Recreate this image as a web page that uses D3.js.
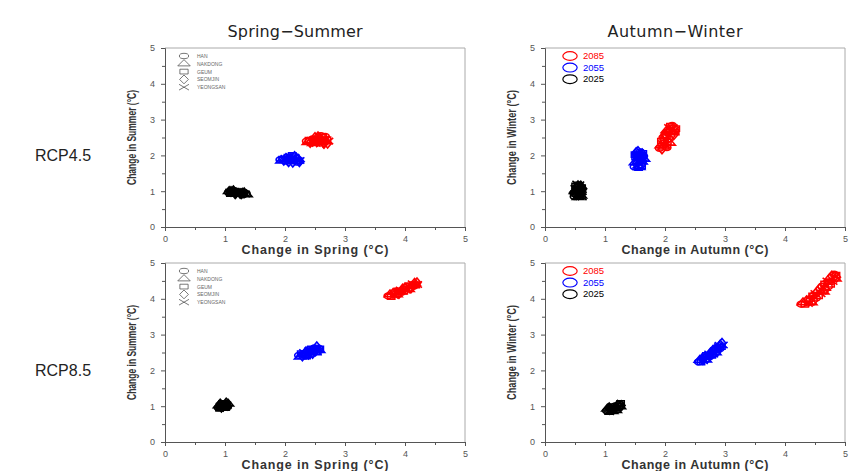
<!DOCTYPE html>
<html><head><meta charset="utf-8">
<script src="https://cdn.jsdelivr.net/npm/d3@7"></script>
<style>body{margin:0;background:#fff}svg{display:block}</style>
</head><body>
<script>
// ---------- data ----------
const columnTitles = ["Spring\u2212Summer", "Autumn\u2212Winter"];
const rowTitles = ["RCP4.5", "RCP8.5"];
const xTitles = ["Change in Spring (\u00B0C)", "Change in Autumn (\u00B0C)"];
const yTitles = ["Change in Summer (\u00B0C)", "Change in Winter (\u00B0C)"];
const tickValues = [0, 1, 2, 3, 4, 5];
const minorTicks = [0.5, 1.5, 2.5, 3.5, 4.5];
const rivers = ["HAN", "NAKDONG", "GEUM", "SEOMJIN", "YEONGSAN"];
const years = ["2085", "2055", "2025"];
const yearColors = ["#ff0000", "#0000ff", "#000000"];

// [x, y, riverIndex]
const rcp45SS_2025 = [[1.06,0.97,0],[1.07,1.00,1],[1.09,0.93,2],[1.10,0.99,3],[1.12,1.01,4],[1.13,0.95,0],[1.15,0.98,1],[1.16,1.00,2],[1.17,0.93,3],[1.19,0.97,4],[1.20,0.99,0],[1.22,0.92,1],[1.23,0.96,2],[1.25,0.94,3],[1.26,0.98,4],[1.28,0.91,0],[1.29,0.95,1],[1.31,0.93,2],[1.32,0.96,3],[1.34,0.92,4],[1.35,0.94,0],[1.36,0.91,1],[1.11,0.96,2],[1.18,0.95,3],[1.24,0.97,4],[1.30,0.90,0],[1.14,1.02,1],[1.21,0.94,2],[1.27,0.93,3],[1.08,0.98,4]];
const rcp45SS_2055 = [[1.92,1.88,0],[1.94,1.85,1],[1.96,1.90,2],[1.98,1.86,3],[2.00,1.92,4],[2.02,1.84,0],[2.03,1.89,1],[2.05,1.95,2],[2.06,1.82,3],[2.08,1.98,4],[2.09,1.87,0],[2.10,1.92,1],[2.12,2.00,2],[2.13,1.81,3],[2.14,1.95,4],[2.15,1.88,0],[2.16,1.98,1],[2.18,1.84,2],[2.19,1.92,3],[2.20,1.87,4],[2.21,1.81,0],[2.22,1.90,1],[2.23,1.85,2],[2.24,1.82,3],[2.25,1.86,4],[2.07,1.90,0],[2.11,1.85,1],[2.17,1.94,2],[2.04,1.87,3],[2.01,1.89,4]];
const rcp45SS_2085 = [[2.36,2.40,0],[2.38,2.37,1],[2.40,2.43,2],[2.42,2.36,3],[2.44,2.41,4],[2.46,2.46,0],[2.47,2.34,1],[2.49,2.39,2],[2.50,2.50,3],[2.52,2.33,4],[2.53,2.44,0],[2.55,2.53,1],[2.56,2.38,2],[2.58,2.48,3],[2.59,2.32,4],[2.60,2.55,0],[2.62,2.42,1],[2.63,2.51,2],[2.64,2.35,3],[2.66,2.46,4],[2.67,2.53,0],[2.68,2.39,1],[2.70,2.44,2],[2.71,2.34,3],[2.73,2.40,4],[2.54,2.36,0],[2.61,2.37,1],[2.57,2.43,2],[2.65,2.33,3],[2.51,2.42,4]];

const rcp45AW_2025 = [[0.49,0.85,0],[0.50,1.00,1],[0.51,1.15,2],[0.52,0.90,3],[0.53,1.20,4],[0.54,1.05,0],[0.55,0.83,1],[0.56,1.12,2],[0.57,0.95,3],[0.58,1.18,4],[0.59,1.02,0],[0.60,0.87,1],[0.61,1.10,2],[0.62,0.97,3],[0.50,1.08,4],[0.52,0.97,0],[0.55,1.16,1],[0.57,0.88,2],[0.60,1.14,3],[0.62,0.84,4],[0.53,1.12,0],[0.56,0.99,1],[0.58,1.06,2],[0.61,1.03,3],[0.54,0.92,4],[0.49,0.93,0],[0.51,1.04,1],[0.59,0.92,2],[0.63,1.07,3],[0.55,1.08,4]];
const rcp45AW_2055 = [[1.49,1.68,0],[1.50,1.80,1],[1.51,1.95,2],[1.52,2.08,3],[1.53,1.72,4],[1.54,1.88,0],[1.55,2.12,1],[1.56,1.66,2],[1.57,2.00,3],[1.58,1.78,4],[1.59,2.10,0],[1.60,1.92,1],[1.61,1.70,2],[1.62,2.05,3],[1.63,1.85,4],[1.64,1.98,0],[1.65,1.90,1],[1.50,2.02,2],[1.53,1.98,3],[1.56,1.84,4],[1.58,1.94,0],[1.61,1.82,1],[1.63,2.06,2],[1.52,1.76,3],[1.55,2.04,4],[1.60,1.74,0],[1.57,1.67,1],[1.54,1.92,2],[1.62,1.96,3],[1.59,2.02,4]];
const rcp45AW_2085 = [[1.91,2.20,0],[1.93,2.28,1],[1.94,2.40,2],[1.95,2.18,3],[1.96,2.33,4],[1.97,2.50,0],[1.98,2.24,1],[1.99,2.42,2],[2.00,2.60,3],[2.01,2.30,4],[2.02,2.52,0],[2.03,2.70,1],[2.04,2.38,2],[2.05,2.62,3],[2.06,2.78,4],[2.07,2.46,0],[2.08,2.68,1],[2.09,2.82,2],[2.10,2.55,3],[2.11,2.74,4],[2.12,2.84,0],[2.13,2.64,1],[2.14,2.78,2],[2.15,2.58,3],[2.16,2.70,4],[2.18,2.75,2],[2.17,2.66,2],[2.03,2.22,0],[2.08,2.35,1],[1.99,2.55,3]];

const rcp85SS_2025 = [[0.89,0.96,0],[0.90,1.02,1],[0.91,0.94,2],[0.92,1.06,3],[0.93,0.99,4],[0.94,1.04,0],[0.95,0.95,1],[0.96,1.08,2],[0.97,1.00,3],[0.98,0.96,4],[0.99,1.06,0],[1.00,1.02,1],[1.01,0.97,2],[1.02,1.09,3],[1.03,1.04,4],[1.04,0.99,0],[1.05,1.07,1],[0.92,1.00,2],[0.95,1.01,3],[0.98,1.03,4],[1.01,1.05,0],[0.97,0.95,1],[1.03,1.00,2],[0.94,0.97,3],[1.00,1.08,4]];
const rcp85SS_2055 = [[2.23,2.42,0],[2.25,2.38,1],[2.27,2.47,2],[2.29,2.40,3],[2.31,2.50,4],[2.33,2.43,0],[2.35,2.53,1],[2.36,2.40,2],[2.38,2.48,3],[2.40,2.56,4],[2.41,2.44,0],[2.43,2.52,1],[2.44,2.60,2],[2.46,2.47,3],[2.47,2.56,4],[2.49,2.63,0],[2.50,2.50,1],[2.52,2.58,2],[2.53,2.66,3],[2.54,2.53,4],[2.56,2.62,0],[2.57,2.56,1],[2.58,2.60,2],[2.39,2.45,3],[2.45,2.55,4],[2.30,2.45,0],[2.34,2.48,1],[2.48,2.59,2],[2.51,2.54,3],[2.42,2.49,4]];
const rcp85SS_2085 = [[3.72,4.08,0],[3.75,4.12,1],[3.77,4.06,2],[3.80,4.15,3],[3.82,4.09,4],[3.84,4.19,0],[3.86,4.12,1],[3.88,4.22,2],[3.90,4.15,3],[3.92,4.25,4],[3.94,4.18,0],[3.96,4.28,1],[3.98,4.21,2],[4.00,4.31,3],[4.02,4.24,4],[4.04,4.34,0],[4.06,4.27,1],[4.08,4.37,2],[4.10,4.30,3],[4.12,4.42,4],[4.14,4.35,0],[4.16,4.44,1],[4.18,4.38,2],[4.20,4.45,3],[4.21,4.40,4],[3.85,4.15,0],[3.93,4.20,1],[4.01,4.28,2],[4.09,4.33,3],[4.17,4.40,4]];

const rcp85AW_2025 = [[1.03,0.87,0],[1.04,0.93,1],[1.06,0.85,2],[1.07,0.96,3],[1.09,0.89,4],[1.10,0.94,0],[1.12,0.86,1],[1.13,0.99,2],[1.14,0.91,3],[1.16,0.96,4],[1.17,1.01,0],[1.18,0.89,1],[1.20,0.94,2],[1.21,1.03,3],[1.22,0.97,4],[1.24,1.06,0],[1.25,0.99,1],[1.26,1.08,2],[1.27,1.02,3],[1.11,0.90,4],[1.15,0.93,0],[1.19,0.98,1],[1.23,1.01,2],[1.08,0.91,3],[1.13,0.95,4]];
const rcp85AW_2055 = [[2.56,2.24,0],[2.58,2.29,1],[2.60,2.23,2],[2.62,2.33,3],[2.64,2.27,4],[2.66,2.37,0],[2.68,2.30,1],[2.69,2.42,2],[2.71,2.35,3],[2.73,2.46,4],[2.74,2.38,0],[2.76,2.50,1],[2.78,2.42,2],[2.79,2.54,3],[2.81,2.46,4],[2.83,2.58,0],[2.84,2.50,1],[2.86,2.62,2],[2.88,2.55,3],[2.89,2.66,4],[2.91,2.60,0],[2.92,2.72,1],[2.94,2.66,2],[2.95,2.76,3],[2.97,2.71,4],[2.70,2.40,0],[2.77,2.45,1],[2.85,2.56,2],[2.63,2.30,3],[2.90,2.70,4]];
const rcp85AW_2085 = [[4.27,3.85,0],[4.30,3.90,1],[4.33,3.84,2],[4.36,3.95,3],[4.39,3.87,4],[4.42,4.00,0],[4.44,3.90,1],[4.46,4.08,2],[4.48,3.96,3],[4.50,4.15,4],[4.52,4.02,0],[4.54,4.22,1],[4.56,4.08,2],[4.58,4.28,3],[4.60,4.14,4],[4.62,4.35,0],[4.64,4.20,1],[4.66,4.42,2],[4.68,4.27,3],[4.70,4.50,4],[4.72,4.34,0],[4.74,4.57,1],[4.76,4.40,2],[4.78,4.64,3],[4.80,4.48,4],[4.82,4.69,0],[4.84,4.56,1],[4.85,4.66,2],[4.86,4.60,3],[4.58,4.18,4],[4.48,4.10,0],[4.66,4.30,1],[4.74,4.48,2],[4.40,3.94,3],[4.83,4.62,4]];

// ---------- layout ----------
const W = 865, H = 471;
const panelLeft = [165, 545], panelTop = [48, 263], PW = 300, PH = 179;
const svg = d3.select("body").append("svg").attr("width", W).attr("height", H);
const FONT = "'Liberation Sans', Arial, sans-serif";

const symTypes = [d3.symbolCircle, d3.symbolTriangle, d3.symbolSquare, d3.symbolDiamond, d3.symbolX || d3.symbolCross];
function markPath(i, size) { return d3.symbol().type(symTypes[i]).size(size)(); }

const panels = [
  {row:0, col:0, sets:[rcp45SS_2085, rcp45SS_2055, rcp45SS_2025]},
  {row:0, col:1, sets:[rcp45AW_2085, rcp45AW_2055, rcp45AW_2025]},
  {row:1, col:0, sets:[rcp85SS_2085, rcp85SS_2055, rcp85SS_2025]},
  {row:1, col:1, sets:[rcp85AW_2085, rcp85AW_2055, rcp85AW_2025]}
];

columnTitles.forEach((t, c) => {
  svg.append("text").attr("x", panelLeft[c] + 130).attr("y", 37)
    .attr("text-anchor", "middle").attr("font-family", "'DejaVu Sans', sans-serif")
    .attr("font-size", 16).attr("fill", "#222").attr("textLength", 135).text(t);
});
rowTitles.forEach((t, r) => {
  svg.append("text").attr("x", 35).attr("y", panelTop[r] + 113)
    .attr("font-family", FONT).attr("font-size", 16).attr("fill", "#222").text(t);
});

panels.forEach(p => {
  const L = panelLeft[p.col], T = panelTop[p.row];
  const g = svg.append("g").attr("transform", `translate(${L},${T})`);
  const x = d3.scaleLinear().domain([0, 5]).range([0, PW]);
  const y = d3.scaleLinear().domain([0, 5]).range([PH, 0]);

  g.append("path").attr("d", `M0,0H${PW}V${PH}`).attr("fill", "none").attr("stroke", "#aaa").attr("stroke-width", 1);

  g.append("g").attr("transform", `translate(0,${PH})`)
    .call(d3.axisBottom(x).tickValues(tickValues).tickSize(4).tickPadding(5).tickFormat(d3.format("d")));
  g.append("g").attr("transform", `translate(0,${PH})`)
    .call(d3.axisBottom(x).tickValues(minorTicks).tickSize(3).tickFormat(""))
    .select(".domain").remove();
  g.append("g")
    .call(d3.axisLeft(y).tickValues(tickValues).tickSize(4).tickPadding(6).tickFormat(d3.format("d")));
  g.append("g").call(d3.axisLeft(y).tickValues(minorTicks).tickSize(3).tickFormat(""))
    .select(".domain").remove();
  g.selectAll(".domain").attr("stroke", "#555");
  g.selectAll(".tick line").attr("stroke", "#555");
  g.selectAll(".tick text").attr("font-family", FONT).attr("font-size", 9).attr("fill", "#555");

  g.append("text").attr("x", PW / 2).attr("y", PH + 27).attr("text-anchor", "middle")
    .attr("font-family", FONT).attr("font-size", 12.5).attr("font-weight", "bold").attr("fill", "#333")
    .attr("textLength", 147).text(xTitles[p.col]);
  g.append("text").attr("transform", `translate(-29,${PH / 2}) rotate(-90)`).attr("text-anchor", "middle")
    .attr("font-family", FONT).attr("font-size", 12).attr("font-weight", "bold").attr("fill", "#333")
    .attr("textLength", 95).attr("lengthAdjust", "spacingAndGlyphs").text(yTitles[p.col]);

  p.sets.forEach((pts, k) => {
    g.append("g").selectAll("path").data(pts).join("path")
      .attr("d", d => markPath(d[2], 40))
      .attr("transform", d => `translate(${x(d[0])},${y(d[1])}) scale(1.15,0.8)`)
      .attr("fill", "none").attr("stroke", yearColors[k]).attr("stroke-width", 1.6)
      .attr("vector-effect", "non-scaling-stroke");
  });

  if (p.col === 0) {
    const lg = g.append("g").attr("transform", "translate(19,8)");
    rivers.forEach((r, i) => {
      lg.append("path").attr("d", markPath(i, 40))
        .attr("transform", `translate(0,${i * 7.8}) scale(1.3,0.75)`)
        .attr("fill", "none").attr("stroke", "#555").attr("stroke-width", 0.8)
        .attr("vector-effect", "non-scaling-stroke");
      lg.append("text").attr("x", 13).attr("y", i * 7.8 + 2)
        .attr("font-family", FONT).attr("font-size", 5).attr("fill", "#666").text(r);
    });
  } else {
    const lg = g.append("g").attr("transform", "translate(25,8)");
    years.forEach((yr, i) => {
      lg.append("path").attr("d", d3.symbol().type(d3.symbolCircle).size(95)())
        .attr("transform", `translate(0,${i * 11.6}) scale(1.3,0.8)`)
        .attr("fill", "none").attr("stroke", yearColors[i]).attr("stroke-width", 1.2)
        .attr("vector-effect", "non-scaling-stroke");
      lg.append("text").attr("x", 13).attr("y", i * 11.6 + 3)
        .attr("font-family", FONT).attr("font-size", 9.5)
        .attr("fill", yearColors[i]).text(yr);
    });
  }
});
</script>
</body></html>
